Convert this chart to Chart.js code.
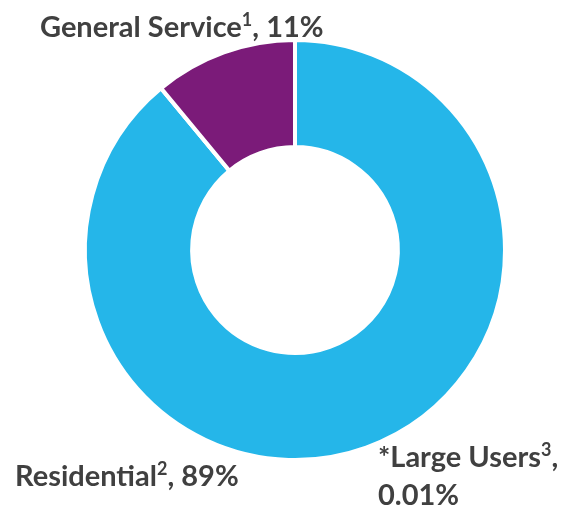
<!DOCTYPE html>
<html>
<head>
<meta charset="utf-8">
<script src="https://cdn.jsdelivr.net/npm/chart.js@4"></script>
<style>
  html, body { margin: 0; padding: 0; background: #fff; }
  #wrap { position: relative; width: 568px; height: 509px; overflow: hidden; }
  canvas { position: absolute; left: 0; top: 0; }
  .lbl { position: absolute; font-family: Lato, "Open Sans", sans-serif; font-weight: 700; font-size: 29px; color: #404040; white-space: nowrap; line-height: 33px; }
  .lbl sup { font-size: 18px; vertical-align: 0; position: relative; top: -11px; }
</style>
</head>
<body>
<div id="wrap">
  <canvas id="c" width="568" height="509"></canvas>
</div>
<script>
const categories = ["Residential", "*Large Users", "General Service"];
const footnotes = ["2", "3", "1"];
const values = [89, 0.01, 11];
const valueLabels = ["89%", "0.01%", "11%"];
const colors = ["#25B6E9", "#25B6E9", "#7B1B79"];

const chart = new Chart(document.getElementById('c'), {
  type: 'doughnut',
  data: {
    labels: categories,
    datasets: [{
      data: values,
      backgroundColor: colors,
      borderColor: '#ffffff',
      borderWidth: 4,
      hoverOffset: 0
    }]
  },
  options: {
    responsive: false,
    animation: false,
    radius: 210,
    cutout: '49%',
    layout: { padding: { left: 22, right: 0, top: 0, bottom: 9 } },
    plugins: { legend: { display: false }, tooltip: { enabled: false } }
  }
});

const wrap = document.getElementById('wrap');
const labelPos = [
  { left: 15, top: 458, text: (i) => categories[i] + '<sup>' + footnotes[i] + '</sup>, ' + valueLabels[i] },
  { left: 378, top: 439, text: (i) => categories[i] + '<sup>' + footnotes[i] + '</sup>,<br>' + valueLabels[i] },
  { left: 40, top: 9, text: (i) => categories[i] + '<sup>' + footnotes[i] + '</sup>, ' + valueLabels[i] }
];
labelPos.forEach((p, i) => {
  const d = document.createElement('div');
  d.className = 'lbl';
  d.style.left = p.left + 'px';
  d.style.top = p.top + 'px';
  d.innerHTML = p.text(i);
  wrap.appendChild(d);
});
</script>
</body>
</html>
